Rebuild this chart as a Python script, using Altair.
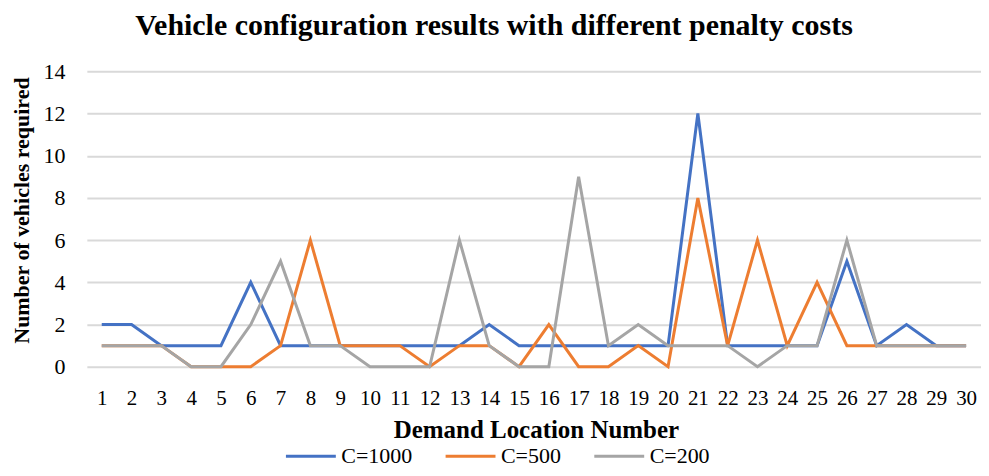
import altair as alt
import pandas as pd

locations = list(range(1, 31))
c1000 = [2, 2, 1, 1, 1, 4, 1, 1, 1, 1, 1, 1, 1, 2, 1, 1, 1, 1, 1, 1, 12, 1, 1, 1, 1, 5, 1, 2, 1, 1]
c500 = [1, 1, 1, 0, 0, 0, 1, 6, 1, 1, 1, 0, 1, 1, 0, 2, 0, 0, 1, 0, 8, 1, 6, 1, 4, 1, 1, 1, 1, 1]
c200 = [1, 1, 1, 0, 0, 2, 5, 1, 1, 0, 0, 0, 6, 1, 0, 0, 9, 1, 2, 1, 1, 1, 0, 1, 1, 6, 1, 1, 1, 1]
series = ["C=1000", "C=500", "C=200"]
colors = ["#4472C4", "#ED7D31", "#A5A5A5"]

frames = []
for name, vals in zip(series, [c1000, c500, c200]):
    frames.append(pd.DataFrame({"loc": locations, "val": vals, "series": name}))

FONT = "Liberation Serif"

def layer_for(df):
    return alt.Chart(df).mark_line(strokeWidth=3).encode(
        x=alt.X("loc:O", scale=alt.Scale(type="point", padding=0.5),
                axis=alt.Axis(title="Demand Location Number", labelAngle=0,
                              labelFontSize=21, labelPadding=21, grid=False,
                              ticks=False, domain=False,
                              titleFontSize=25, titleFontWeight="bold",
                              titleX=450, titleY=51, titleAnchor="middle")),
        y=alt.Y("val:Q", scale=alt.Scale(domain=[0, 14]),
                axis=alt.Axis(title="Number of vehicles required", values=list(range(0, 15, 2)),
                              labelFontSize=22, labelPadding=22, ticks=False, domain=False,
                              gridColor="#d9d9d9", gridWidth=2,
                              titleFontSize=22, titleFontWeight="bold",
                              titleX=-53, titleY=139, titleAngle=-90)),
        color=alt.Color("series:N", scale=alt.Scale(domain=series, range=colors),
                        legend=alt.Legend(title=None, orient="none", direction="horizontal",
                                          legendX=198, legendY=359, padding=0,
                                          symbolType="stroke", symbolSize=2500,
                                          symbolStrokeWidth=3, labelFontSize=22,
                                          labelOffset=4, columnPadding=26)),
    )

chart = alt.layer(*[layer_for(f) for f in frames]).properties(
    width=896, height=296,
    title=alt.TitleParams("Vehicle configuration results with different penalty costs",
                          fontSize=30, fontWeight="bold", font=FONT, dx=-40, offset=19),
    autosize=alt.AutoSizeParams(type="none"),
    padding={"left": 79, "top": 63, "right": 0, "bottom": 101},
).configure(
    font=FONT,
).configure_axis(
    labelFont=FONT, titleFont=FONT, labelColor="#000000", titleColor="#000000",
).configure_legend(
    labelFont=FONT, labelColor="#000000",
).configure_view(stroke=None)

chart.save("out.html", embed_options={"renderer": "svg", "actions": False})
